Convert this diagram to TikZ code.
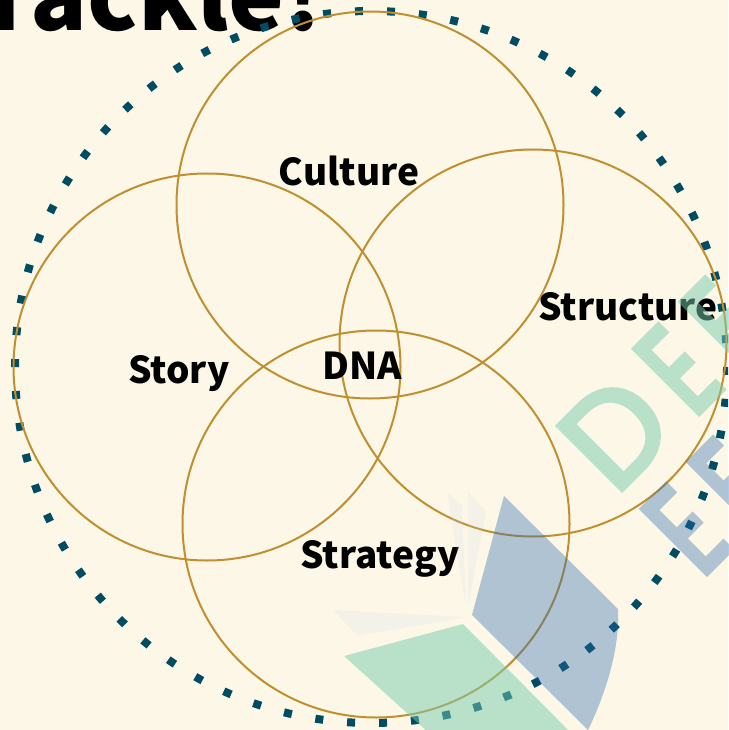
\documentclass[tikz,border=0pt]{standalone}
\usepackage{fontspec}
\setmainfont{Noto Sans CJK SC}
\newfontfamily\wmfont[FakeBold=3.5]{Poppins}
\newfontfamily\wmnarrow[FakeBold=4.5,FakeStretch=0.68]{Poppins}
\usetikzlibrary{positioning}
\definecolor{paper}{HTML}{FDF7E7}
\definecolor{ringgold}{HTML}{C09030}
\definecolor{dotteal}{HTML}{004C63}
\definecolor{wmgreen}{HTML}{77CDAD}
\definecolor{wmblue}{HTML}{2A69AF}
\definecolor{wmgrey}{HTML}{C7D8EF}
\def\ringsize{387pt}
\begin{document}
\begin{tikzpicture}[x=1pt,y=-1pt,
	ring/.style={circle,draw=ringgold,line width=2pt,minimum size=\ringsize,inner sep=0pt},
	tag/.style={font=\bfseries\fontsize{37}{39}\selectfont,text=black,inner sep=0pt}]
	\tikzstyle{wm green}=[fill=wmgreen,fill opacity=0.5]
	\tikzstyle{wm blue}=[fill=wmblue,fill opacity=0.36]
	\tikzstyle{wm grey}=[fill=wmgrey,fill opacity=0.15]
	\tikzstyle{wm letter}=[rotate=45,inner sep=0pt,font=\fontsize{130}{130}\selectfont,anchor=base west]

	\useasboundingbox (0,0) rectangle (728,730);
	\clip (0,0) rectangle (728,730);
	\fill[paper] (0,0) rectangle (728,730);

	% Cut-off title
	\node[font=\bfseries\fontsize{94}{94}\selectfont,anchor=base west,inner sep=0pt] (title) at (-10,31) {rackle!};

	% Dotted outer ring
	\node[circle,minimum size=712pt,inner sep=0pt,draw=dotteal,line width=8pt,dash pattern=on 8pt off 23.96pt,dash phase=8pt] (outer) at (371,367) {};

	% The four rings
	\node[ring] (culture) at (370,205) {};
	\node[ring] (story) at (207,367) {};
	\node[ring] (structure) at (533,343) {};
	\node[ring] (strategy) at (376,524) {};

	% Labels
	\node[tag] (l-culture) at (349,171) {Culture};
	\node[tag] (l-story) at (179,374) {Story};
	\node[tag] (l-structure) at (628,307) {Structure};
	\node[tag] (l-strategy) at (380,559) {Strategy};
	\node[tag] (l-dna) at (362,366) {DNA};

	% Watermark sectors
	\fill[wm green] (344,656) -- (463,624) -- (590,752) -- (450,752) -- cycle;
	\fill[wm blue] (504,496) -- (618,609) .. controls (620,650) and (605,695) .. (588,730) -- (472,615) -- cycle;
	\fill[wm grey] (333,610) -- (467,617) -- (358,636) -- cycle;
	\fill[wm grey] (447,492) -- (462,505) -- (466,607) -- cycle;
	\fill[wm grey] (468,492) -- (486,511) -- (468,608) -- cycle;

	% Watermark letters
	\begin{scope}[transparency group,opacity=0.5]
	\node[wm letter,text=wmgreen] (wm-1) at (615,497) {{\wmfont D}\kern20pt{\wmnarrow E}\kern21pt{\wmnarrow E}};
	\end{scope}
	\begin{scope}[transparency group,opacity=0.36]
	\node[wm letter,text=wmblue] (wm-2) at (702,578) {{\wmnarrow E}\kern21pt{\wmnarrow E}};
	\end{scope}
\end{tikzpicture}
\end{document}
